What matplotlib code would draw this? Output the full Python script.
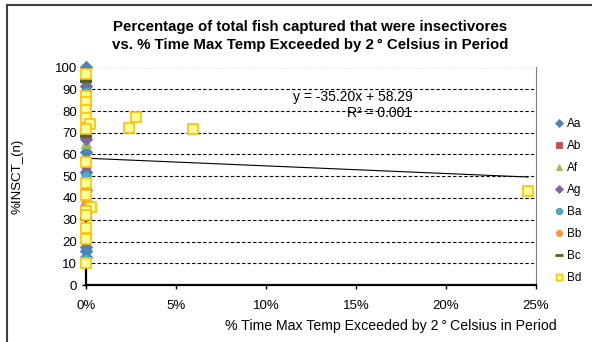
import matplotlib.pyplot as plt
from matplotlib.lines import Line2D
from matplotlib.ticker import PercentFormatter
import numpy as np

plt.rcParams['font.family'] = ['Liberation Sans', 'DejaVu Sans']

# share of time max temp exceeded (fraction) and % insectivores, per site group
aa_y = [100, 61, 43.5, 17.5, 15.5, 13]
ab_y = [93, 55, 22.5]
af_y = [90.5, 65.5, 39, 37.5]
ag_y = [91.5, 67, 52, 36.5]
ba_y = [89, 50.5, 12.5, 37]
bb_y = [38.5, 22.5, 35]
bc_y = [94, 68.5, 30.5]
bd_x = [0, 0, 0, 0, 0, 0.002, 0, 0, 0, 0, 0.003, 0, 0, 0, 0, 0,
        0.0239, 0.0278, 0.0593, 0.2455]
bd_y = [97, 87, 84, 80.5, 77, 74, 71.5, 56.5, 47, 41.5, 36, 34, 32, 26, 21, 10,
        72.3, 77.4, 71.7, 43]

slope = -35.20
intercept = 58.29
r_squared = 0.001

series = [
    ('Aa', aa_y, 'D', '#4F81BD', '#4F81BD', 6),
    ('Ab', ab_y, 's', '#C0504D', '#C0504D', 5.5),
    ('Af', af_y, '^', '#9BBB59', '#9BBB59', 6.5),
    ('Ag', ag_y, 'D', '#8064A2', '#8064A2', 6),
    ('Ba', ba_y, 'o', '#4BACC6', '#2C8FAA', 6.5),
    ('Bb', bb_y, 'o', '#F79646', '#F79646', 6.5),
    ('Bc', bc_y, '_', '#4F6228', '#4F6228', 9),
]

fig = plt.figure(figsize=(5.92, 3.42), dpi=100)
ax = fig.add_axes([86 / 592, 1 - 285 / 342, 450 / 592, 217.5 / 342])

handles = []
for name, ys, mk, fc, ec, ms in series:
    xs = np.zeros(len(ys))
    mew = 3 if mk == '_' else 0.8
    ax.plot(xs, ys, linestyle='none', marker=mk, markersize=ms,
            markerfacecolor=fc, markeredgecolor=ec, markeredgewidth=mew,
            clip_on=False, zorder=3)
    handles.append(Line2D([], [], linestyle='none', marker=mk,
                          markersize=4.5 if mk != '_' else 6,
                          markerfacecolor=fc, markeredgecolor=ec,
                          markeredgewidth=2 if mk == '_' else 0.6, label=name))

ax.plot(bd_x, bd_y, linestyle='none', marker='s', markersize=7,
        markerfacecolor='#FFFF99', markeredgecolor='#FFC000',
        markeredgewidth=1.2, clip_on=False, zorder=4)
handles.append(Line2D([], [], linestyle='none', marker='s', markersize=5,
                      markerfacecolor='#FFFF99', markeredgecolor='#FFC000',
                      markeredgewidth=1, label='Bd'))

# linear trendline over the Bd range
tx = np.array([0, max(bd_x)])
ax.plot(tx, slope * tx + intercept, color='black', linewidth=0.8, zorder=2)

ax.set_xlim(0, 0.25)
ax.set_ylim(0, 100)
ax.set_xticks(np.arange(0, 0.2501, 0.05))
ax.set_yticks(range(0, 101, 10))
ax.xaxis.set_major_formatter(PercentFormatter(1.0, decimals=0))
ax.tick_params(axis='both', labelsize=9.5, direction='out', length=3, width=1)
ax.tick_params(axis='x', pad=8)

for v in range(10, 101, 10):
    ax.axhline(v, color='black', linewidth=0.8, linestyle=(0, (3, 2)), zorder=1)

ax.spines['top'].set_visible(False)
ax.spines['left'].set_linewidth(1.6)
ax.spines['bottom'].set_linewidth(1.6)
ax.spines['right'].set_color('#808080')
ax.spines['right'].set_linewidth(0.8)

ax.text(0.7255, 0.865, 'y = %.2fx + %.2f' % (slope, intercept),
        transform=ax.transAxes, ha='right', va='center', fontsize=10)
ax.text(0.7255, 0.79, 'R\u00b2 = %.3f' % r_squared, transform=ax.transAxes,
        ha='right', va='center', fontsize=10)

fig.text(310 / 592, 1 - 36 / 342,
         'Percentage of total fish captured that were insectivores\n'
         'vs. % Time Max Temp Exceeded by 2\u2009\u00b0 Celsius in Period',
         ha='center', va='center', fontsize=10.8, fontweight='bold',
         linespacing=1.3)
fig.text(391 / 592, 1 - 326 / 342,
         '% Time Max Temp Exceeded by 2\u2009\u00b0\u2009Celsius in Period',
         ha='center', va='center', fontsize=10.2)
fig.text(18 / 592, 1 - 176 / 342, '%INSCT_(n)', rotation=90,
         ha='center', va='center', fontsize=9.5)

fig.legend(handles=handles, loc='upper left',
           bbox_to_anchor=(548 / 592, 1 - 112 / 342), frameon=False,
           fontsize=8.5, handlelength=0.8, handletextpad=0.3,
           labelspacing=0.85, borderpad=0)

# outer chart frame, top and left edges
fig.add_artist(Line2D([7 / 592, 1], [1 - 5 / 342, 1 - 5 / 342],
                      color='#404040', linewidth=1.5))
fig.add_artist(Line2D([7 / 592, 7 / 592], [0, 1 - 5 / 342],
                      color='#404040', linewidth=1.5))

fig.savefig('out.png', dpi=100)
